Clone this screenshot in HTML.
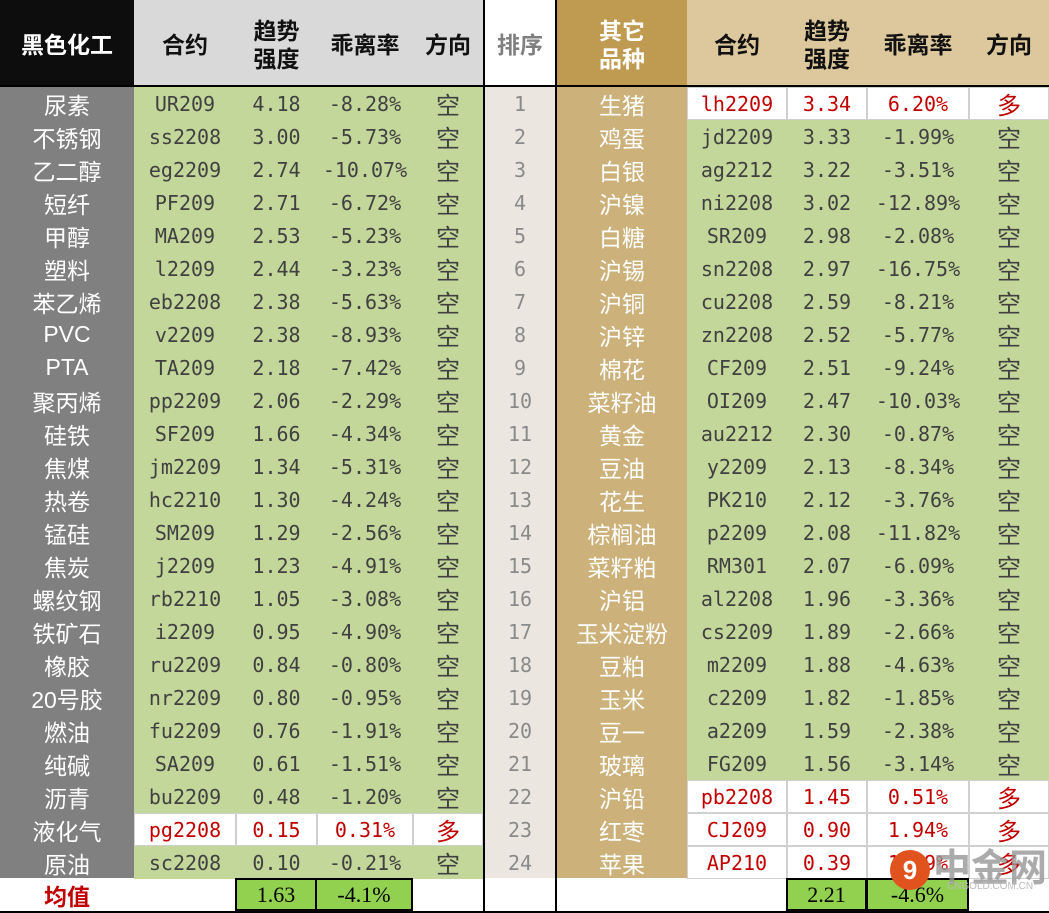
<!DOCTYPE html>
<html><head><meta charset="utf-8">
<style>
html,body{margin:0;padding:0;background:#fff;}
#wrap{position:relative;width:1049px;height:913px;overflow:hidden;font-family:"Liberation Sans","Noto Sans CJK SC",sans-serif;}
.c{position:absolute;display:flex;align-items:center;justify-content:center;box-sizing:border-box;font-size:22px;color:#404040;white-space:nowrap;}
.d{font-family:"DejaVu Sans Mono","Noto Sans CJK SC",monospace;font-size:20px;}
.dir{font-family:"Noto Sans CJK SC",sans-serif;font-size:24px;}
.h{font-weight:bold;color:#111;line-height:28px;text-align:center;font-size:23px;font-family:"Noto Sans CJK SC",sans-serif;}
.lbl{color:#fff;font-size:23px;font-family:"Liberation Sans","Noto Sans CJK SC",sans-serif;}
.red{color:#c00000;}
.line{position:absolute;background:#000;}
</style></head><body>
<div id="wrap"></div>
<script>
const leftNames=["尿素","不锈钢","乙二醇","短纤","甲醇","塑料","苯乙烯","PVC","PTA","聚丙烯","硅铁","焦煤","热卷","锰硅","焦炭","螺纹钢","铁矿石","橡胶","20号胶","燃油","纯碱","沥青","液化气","原油"];
const leftCodes=["UR209","ss2208","eg2209","PF209","MA209","l2209","eb2208","v2209","TA209","pp2209","SF209","jm2209","hc2210","SM209","j2209","rb2210","i2209","ru2209","nr2209","fu2209","SA209","bu2209","pg2208","sc2208"];
const leftTrend=["4.18","3.00","2.74","2.71","2.53","2.44","2.38","2.38","2.18","2.06","1.66","1.34","1.30","1.29","1.23","1.05","0.95","0.84","0.80","0.76","0.61","0.48","0.15","0.10"];
const leftDev=["-8.28%","-5.73%","-10.07%","-6.72%","-5.23%","-3.23%","-5.63%","-8.93%","-7.42%","-2.29%","-4.34%","-5.31%","-4.24%","-2.56%","-4.91%","-3.08%","-4.90%","-0.80%","-0.95%","-1.91%","-1.51%","-1.20%","0.31%","-0.21%"];
const rightNames=["生猪","鸡蛋","白银","沪镍","白糖","沪锡","沪铜","沪锌","棉花","菜籽油","黄金","豆油","花生","棕榈油","菜籽粕","沪铝","玉米淀粉","豆粕","玉米","豆一","玻璃","沪铅","红枣","苹果"];
const rightCodes=["lh2209","jd2209","ag2212","ni2208","SR209","sn2208","cu2208","zn2208","CF209","OI209","au2212","y2209","PK210","p2209","RM301","al2208","cs2209","m2209","c2209","a2209","FG209","pb2208","CJ209","AP210"];
const rightTrend=["3.34","3.33","3.22","3.02","2.98","2.97","2.59","2.52","2.51","2.47","2.30","2.13","2.12","2.08","2.07","1.96","1.89","1.88","1.82","1.59","1.56","1.45","0.90","0.39"];
const rightDev=["6.20%","-1.99%","-3.51%","-12.89%","-2.08%","-16.75%","-8.21%","-5.77%","-9.24%","-10.03%","-0.87%","-8.34%","-3.76%","-11.82%","-6.09%","-3.36%","-2.66%","-4.63%","-1.85%","-2.38%","-3.14%","0.51%","1.94%","1.09%"];
const avgLeft=["1.63","-4.1%"];
const avgRight=["2.21","-4.6%"];

const W=document.getElementById('wrap');
function cell(x,y,w,h,txt,cls,bg,name){
  const d=document.createElement('div');
  d.className='c '+(cls||'');
  d.style.left=x+'px';d.style.top=y+'px';d.style.width=w+'px';d.style.height=h+'px';
  if(bg)d.style.background=bg;
  d.innerHTML=txt;
  
  
  W.appendChild(d);return d;
}
function line(x,y,w,h,name){
  const d=document.createElement('div');d.className='line';
  d.style.left=x+'px';d.style.top=y+'px';d.style.width=w+'px';d.style.height=h+'px';
  
  
  W.appendChild(d);
}
const HH=85,RY=87,RH=33,FY=878;
const LC=[0,134,236,317,413,483];
const RC=[555,687,787,867,969,1049];
cell(0,0,134,HH,'黑色化工','h','#0d0d0d','header-black-chemical').style.color='#fff';
cell(134,0,349,HH,'','', '#d9d9d9','header-left-bg');
cell(134,0,102,HH,'合约','h',null,'header-contract-left');
cell(236,0,81,HH,'趋势<br>强度','h',null,'header-trend-left');
cell(317,0,96,HH,'乖离率','h',null,'header-deviation-left');
cell(413,0,70,HH,'方向','h',null,'header-direction-left');
cell(485,0,70,HH,'排序','h','#fff','header-rank').style.color='#7f7f7f';
cell(557,0,130,HH,'其它<br>品种','h','#bf9b52','header-other').style.color='#fff';
cell(687,0,362,HH,'','','#dcc89c','header-right-bg');
cell(687,0,100,HH,'合约','h',null,'header-contract-right');
cell(787,0,80,HH,'趋势<br>强度','h',null,'header-trend-right');
cell(867,0,102,HH,'乖离率','h',null,'header-deviation-right');
cell(969,0,80,HH,'方向','h',null,'header-direction-right');
cell(0,RY,134,FY-RY,'','','#808080','left-label-column');
cell(485,RY,70,FY-RY,'','','#ebe6e0','rank-column');
cell(557,RY,130,FY-RY,'','','#ccb27a','other-label-column');
function block(names,codes,trend,dev,cols,labX,labW,side){
  for(let i=0;i<names.length;i++){
    const y=RY+i*RH;
    const up=!dev[i].startsWith('-');
    const bg=up?'#fff':'#c4d79b';
    cell(cols[1],y,cols[5]-cols[1],RH,'','',bg,side+'-row-bg-'+(i+1));
    if(up){for(let k=1;k<5;k++){const d=cell(cols[k],y,cols[k+1]-cols[k],RH,'','',null,side+'-cell-border');d.style.border='1px solid #d0d0d0';}}
    cell(labX,y,labW,RH,names[i],'lbl',null,side+'-name-'+(i+1));
    const cls=up?' red':'';
    cell(cols[1],y,cols[2]-cols[1],RH,codes[i],'d'+cls,null,side+'-code-'+(i+1));
    cell(cols[2],y,cols[3]-cols[2],RH,trend[i],'d'+cls,null,side+'-trend-'+(i+1));
    cell(cols[3],y,cols[4]-cols[3],RH,dev[i],'d'+cls,null,side+'-deviation-'+(i+1));
    cell(cols[4],y,cols[5]-cols[4],RH,up?'多':'空','dir'+cls,null,side+'-direction-'+(i+1));
  }
}
block(leftNames,leftCodes,leftTrend,leftDev,LC,0,134,'left');
block(rightNames,rightCodes,rightTrend,rightDev,RC,557,130,'right');
for(let i=0;i<24;i++){cell(485,RY+i*RH,70,RH,String(i+1),'d',null,'rank-'+(i+1)).style.color='#8a8a8a';}
cell(0,FY,134,34,'均值','h',null,'average-label').style.color='#c00000';
function avg(x,w,t,n){const d=cell(x,FY,w,33,t,'','#92d050',n);d.style.border='2px solid #000';d.style.color='#000';d.style.fontFamily='"Liberation Serif","Noto Serif CJK SC",serif';}
avg(235,82,avgLeft[0],'average-trend-left');
avg(315,98,avgLeft[1],'average-deviation-left');
avg(786,81,avgRight[0],'average-trend-right');
avg(866,103,avgRight[1],'average-deviation-right');
line(0,HH,1049,2,'header-bottom-line');
line(483,0,2,913,'rank-left-line');
line(555,0,2,913,'rank-right-line');
line(0,911,1049,2,'bottom-line');
const lg=cell(890,850,40,40,'<span style="color:#fff;font-size:26px;font-weight:bold">9</span>','',null,'logo-icon');
lg.style.borderRadius='50%';lg.style.background='#e0531f';
const lt=cell(935,842,110,44,'中金网','',null,'logo-text');lt.style.fontSize='38px';lt.style.color='rgba(150,150,150,0.8)';lt.style.fontWeight='bold';
const ls=cell(940,880,100,12,'CNGOLD.COM.CN','',null,'logo-url');ls.style.fontSize='10px';ls.style.color='#bbb';
</script>
</body></html>
